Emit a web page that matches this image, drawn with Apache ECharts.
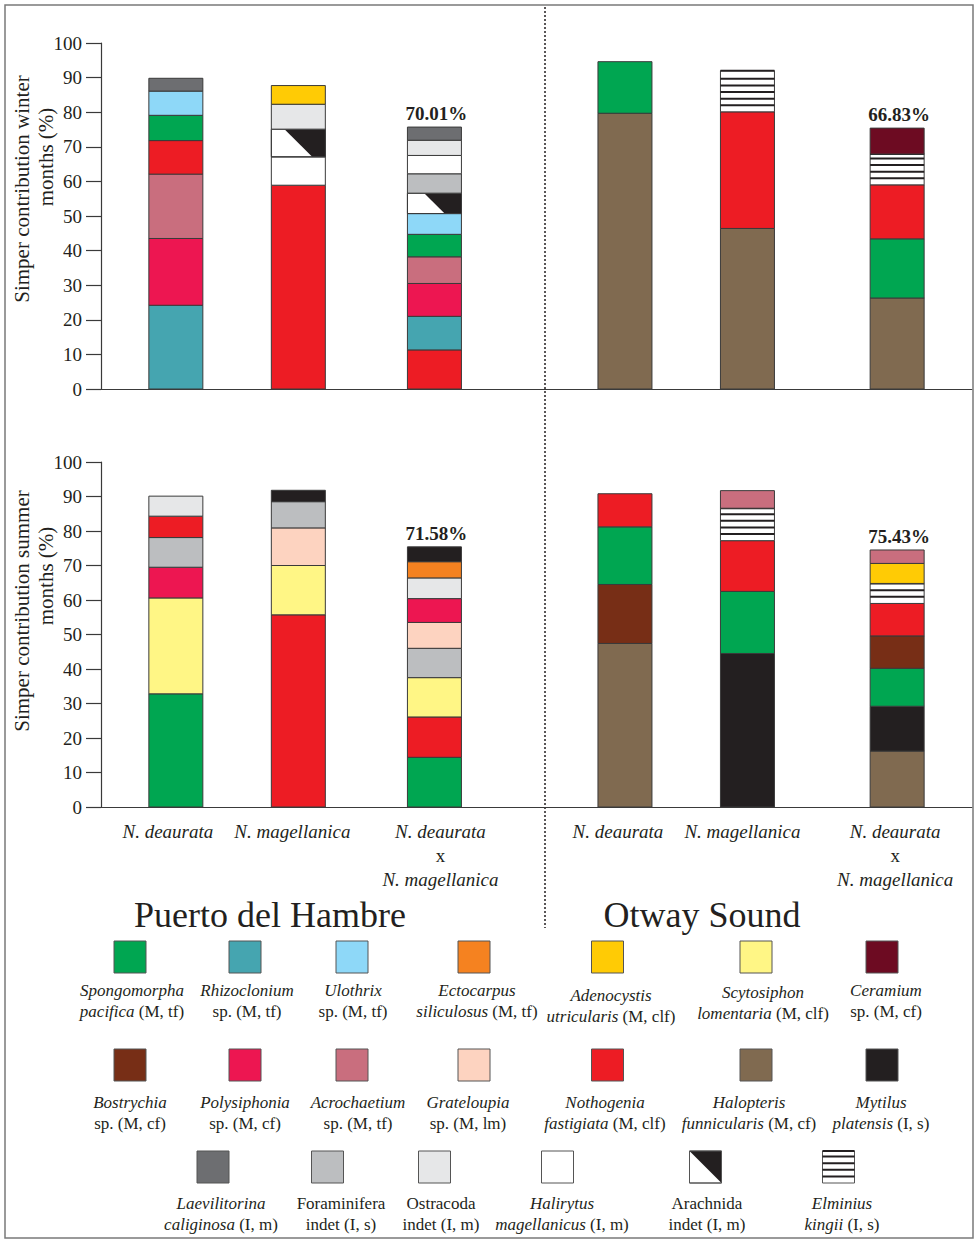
<!DOCTYPE html>
<html><head><meta charset="utf-8">
<script src="https://cdn.jsdelivr.net/npm/echarts@6/dist/echarts.min.js"></script>
<style>html,body{margin:0;padding:0;background:#fff}#c{width:976px;height:1242px}</style>
</head><body><div id="c"></div>
<script>
// ---------------- DATA ----------------
const categories = ['N. deaurata', 'N. magellanica', 'N. deaurata x N. magellanica'];
const sites = ['Puerto del Hambre', 'Otway Sound'];
const seasons = ['winter', 'summer'];
const hybridPercent = ['70.01%', '66.83%', '71.58%', '75.43%']; // winter PH, winter OS, summer PH, summer OS

const speciesKeys = ['Spongomorpha','Rhizoclonium','Ulothrix','Ectocarpus','Adenocystis','Scytosiphon','Ceramium',
  'Bostrychia','Polysiphonia','Acrochaetium','Grateloupia','Nothogenia','Halopteris','Mytilus',
  'Laevilitorina','Foraminifera','Ostracoda','Halirytus','Arachnida','Elminius'];
const speciesLabels = [
  '{i|Spongomorpha}\n{i|pacifica} (M, tf)', '{i|Rhizoclonium}\nsp. (M, tf)', '{i|Ulothrix}\nsp. (M, tf)',
  '{i|Ectocarpus}\n{i|siliculosus} (M, tf)', '{i|Adenocystis}\n{i|utricularis} (M, clf)',
  '{i|Scytosiphon}\n{i|lomentaria} (M, clf)', '{i|Ceramium}\nsp. (M, cf)',
  '{i|Bostrychia}\nsp. (M, cf)', '{i|Polysiphonia}\nsp. (M, cf)', '{i|Acrochaetium}\nsp. (M, tf)',
  '{i|Grateloupia}\nsp. (M, lm)', '{i|Nothogenia}\n{i|fastigiata} (M, clf)',
  '{i|Halopteris}\n{i|funnicularis} (M, cf)', '{i|Mytilus}\n{i|platensis} (I, s)',
  '{i|Laevilitorina}\n{i|caliginosa} (I, m)', 'Foraminifera\nindet (I, s)', 'Ostracoda\nindet (I, m)',
  '{i|Halirytus}\n{i|magellanicus} (I, m)', 'Arachnida\nindet (I, m)', '{i|Elminius}\n{i|kingii} (I, s)'];

// stacked contributions, bottom to top
const winterPH_deaurata = [['Rhizoclonium',24.2],['Polysiphonia',19.3],['Acrochaetium',18.6],['Nothogenia',9.7],['Spongomorpha',7.3],['Ulothrix',7.0],['Laevilitorina',3.7]];
const winterPH_magellanica = [['Nothogenia',58.9],['Halirytus',8.2],['Arachnida',8.0],['Ostracoda',7.2],['Adenocystis',5.4]];
const winterPH_hybrid = [['Nothogenia',11.3],['Rhizoclonium',9.7],['Polysiphonia',9.5],['Acrochaetium',7.7],['Spongomorpha',6.5],['Ulothrix',6.0],['Arachnida',5.9],['Foraminifera',5.6],['Halirytus',5.3],['Ostracoda',4.4],['Laevilitorina',3.8]];
const winterOS_deaurata = [['Halopteris',79.7],['Spongomorpha',14.9]];
const winterOS_magellanica = [['Halopteris',46.4],['Nothogenia',33.7],['Elminius',11.9]];
const winterOS_hybrid = [['Halopteris',26.3],['Spongomorpha',17.1],['Nothogenia',15.6],['Elminius',8.9],['Ceramium',7.5]];
const summerPH_deaurata = [['Spongomorpha',32.8],['Scytosiphon',27.8],['Polysiphonia',8.9],['Foraminifera',8.6],['Nothogenia',6.2],['Ostracoda',5.8]];
const summerPH_magellanica = [['Nothogenia',55.7],['Scytosiphon',14.3],['Grateloupia',10.9],['Foraminifera',7.6],['Mytilus',3.3]];
const summerPH_hybrid = [['Spongomorpha',14.4],['Nothogenia',11.7],['Scytosiphon',11.4],['Foraminifera',8.5],['Grateloupia',7.5],['Polysiphonia',6.9],['Ostracoda',6.0],['Ectocarpus',4.7],['Mytilus',4.3]];
const summerOS_deaurata = [['Halopteris',47.4],['Bostrychia',17.1],['Spongomorpha',16.7],['Nothogenia',9.6]];
const summerOS_magellanica = [['Mytilus',44.5],['Spongomorpha',18.0],['Nothogenia',14.7],['Elminius',9.4],['Acrochaetium',5.1]];
const summerOS_hybrid = [['Halopteris',16.2],['Mytilus',13.0],['Spongomorpha',11.0],['Bostrychia',9.4],['Nothogenia',9.4],['Elminius',5.8],['Adenocystis',5.8],['Acrochaetium',3.9]];

// ---------------- STYLE / LAYOUT ----------------
const speciesColors = {
  Spongomorpha:'#00a651', Rhizoclonium:'#45a5b0', Ulothrix:'#8ed8f8', Ectocarpus:'#f58220', Adenocystis:'#ffcb05',
  Scytosiphon:'#fff685', Ceramium:'#6d0b22', Bostrychia:'#772e16', Polysiphonia:'#ed1651', Acrochaetium:'#c96e7e',
  Grateloupia:'#fdd3c0', Nothogenia:'#ed1c24', Halopteris:'#806a50', Mytilus:'#231f20', Laevilitorina:'#6d6e71',
  Foraminifera:'#bcbec0', Ostracoda:'#e6e7e8', Halirytus:'#ffffff', Arachnida:'#ffffff', Elminius:'#ffffff'
};
const FONT = 'Liberation Serif';
const TXT = '#231f20';
const SLOT_COUNT = 64;
const barSlots = [5, 14, 24, 38, 47, 58]; // PH: 3 cats, OS: 3 cats
const labelShift = [-8, -6, 6, -7, -5, -2]; // horizontal nudge of category labels (px)
const BAR_W = 54;

const rows = [
  [winterPH_deaurata, winterPH_magellanica, winterPH_hybrid, winterOS_deaurata, winterOS_magellanica, winterOS_hybrid],
  [summerPH_deaurata, summerPH_magellanica, summerPH_hybrid, summerOS_deaurata, summerOS_magellanica, summerOS_hybrid]
];

function clipHalf(pts, f) {
  const out = [];
  for (let i = 0; i < pts.length; i++) {
    const cur = pts[i], prev = pts[(i + pts.length - 1) % pts.length];
    const fc = f(cur), fp = f(prev);
    const inter = () => { const t = fp / (fp - fc); return [prev[0] + t * (cur[0] - prev[0]), prev[1] + t * (cur[1] - prev[1])]; };
    if (fc >= 0) { if (fp < 0) out.push(inter()); out.push(cur); }
    else if (fp >= 0) out.push(inter());
  }
  return out;
}

function segmentShape(x, y, w, h, key, stroke) {
  const children = [{ type: 'rect', shape: { x, y, width: w, height: h },
    style: { fill: speciesColors[key], stroke: stroke || '#3a3a3a', lineWidth: 1 } }];
  if (key === 'Arachnida') {
    const cx = x + w / 2, cy = y + h / 2;
    const poly = clipHalf([[x, y], [x + w, y], [x + w, y + h], [x, y + h]], p => (p[0] - cx) - (p[1] - cy));
    if (poly.length > 2) children.push({ type: 'polygon', shape: { points: poly }, style: { fill: '#231f20' } });
    children.push({ type: 'rect', shape: { x, y, width: w, height: h }, style: { fill: 'none', stroke: stroke || '#3a3a3a', lineWidth: 1 } });
  }
  if (key === 'Elminius') {
    for (let yy = y + h - 6.6; yy > y + 2; yy -= 6.6) {
      children.push({ type: 'line', shape: { x1: x, y1: yy, x2: x + w, y2: yy }, style: { stroke: '#231f20', lineWidth: 2 } });
    }
    children.push({ type: 'line', shape: { x1: x, y1: y, x2: x + w, y2: y }, style: { stroke: '#231f20', lineWidth: 2 } });
  }
  return { type: 'group', children };
}

// build series data
const series = [];
rows.forEach((bars, g) => {
  const segData = [];
  const topData = [];
  bars.forEach((bar, b) => {
    let acc = 0;
    bar.forEach(([key, v]) => {
      segData.push([barSlots[b], acc, acc + v, speciesKeys.indexOf(key)]);
      acc += v;
    });
    if (b === 2 || b === 5) topData.push([barSlots[b], acc, g * 2 + (b === 5 ? 1 : 0)]);
  });
  series.push({
    type: 'custom', xAxisIndex: g, yAxisIndex: g, data: segData,
    encode: { x: 0, y: [1, 2] },
    renderItem: (params, api) => {
      const slot = api.value(0);
      const p0 = api.coord([slot, api.value(1)]);
      const p1 = api.coord([slot, api.value(2)]);
      return segmentShape(p0[0] - BAR_W / 2, p1[1], BAR_W, p0[1] - p1[1], speciesKeys[api.value(3)]);
    }
  });
  series.push({
    type: 'custom', xAxisIndex: g, yAxisIndex: g, data: topData,
    encode: { x: 0, y: 1 },
    renderItem: (params, api) => {
      const p = api.coord([api.value(0), api.value(1)]);
      return { type: 'text', style: { x: p[0] + 2, y: p[1] - 4, text: hybridPercent[api.value(2)],
        font: 'bold 19px "' + FONT + '"', fill: TXT, align: 'center', verticalAlign: 'bottom' } };
    }
  });
});

// category labels with per-slot rich styles (for small horizontal nudges)
const slotLabels = new Array(SLOT_COUNT).fill('');
const richStyles = {};
barSlots.forEach((slot, j) => {
  const c = j % 3;
  const s = labelShift[j];
  const pad = s < 0 ? [0, -2 * s, 0, 0] : [0, 0, 0, 2 * s];
  richStyles['i' + j] = { fontStyle: 'italic', fontFamily: FONT, fontSize: 19, color: TXT, lineHeight: 24, padding: pad };
  richStyles['n' + j] = { fontFamily: FONT, fontSize: 19, color: TXT, lineHeight: 24, padding: pad };
  const parts = categories[c].split(' x ');
  slotLabels[slot] = parts.length > 1
    ? '{i' + j + '|' + parts[0] + '}\n{n' + j + '|x}\n{i' + j + '|' + parts[1] + '}'
    : '{i' + j + '|' + parts[0] + '}';
});
const slotData = slotLabels.map((_, i) => String(i));

function xAxis(g) {
  return {
    type: 'category', gridIndex: g, data: slotData, boundaryGap: true,
    axisLine: { show: true, lineStyle: { color: '#3a3a3a', width: 1.2 } },
    axisTick: { show: false },
    axisLabel: g === 1 ? {
      show: true, interval: 0, margin: 12, color: TXT, fontFamily: FONT, fontSize: 19, lineHeight: 24,
      formatter: (v, i) => slotLabels[i],
      rich: richStyles
    } : { show: false },
    splitLine: { show: false }
  };
}
function yAxis(g) {
  return {
    type: 'value', gridIndex: g, min: 0, max: 100, interval: 10,
    axisLine: { show: true, lineStyle: { color: '#3a3a3a', width: 1.2 } },
    axisTick: { show: true, length: 15, lineStyle: { color: '#3a3a3a', width: 1.2 } },
    axisLabel: { margin: 19, color: TXT, fontFamily: FONT, fontSize: 19 },
    splitLine: { show: false }
  };
}

// legend layout
const legendRows = [
  { keys: [0,1,2,3,4,5,6], sq: [130,245,352,474,607.5,756,882], tx: [132,247,353,477,611,763,886], top: 941, ty: [990,990,990,990,995,992,990] },
  { keys: [7,8,9,10,11,12,13], sq: [130,245,352,474,607.5,756,882], tx: [130,245,358,468,605,749,881], top: 1049, ty: [1102,1102,1102,1102,1102,1102,1102] },
  { keys: [14,15,16,17,18,19], sq: [213,327.5,434.5,557.5,705.5,838.5], tx: [221,341,441,562,707,842], top: 1151, ty: [1203,1203,1203,1203,1203,1203] }
];
const graphics = [];
graphics.push({ type: 'rect', shape: { x: 5, y: 5, width: 968, height: 1233 }, style: { fill: 'none', stroke: '#7a7a7a', lineWidth: 1.5 }, z: 10 });
graphics.push({ type: 'line', shape: { x1: 545, y1: 7, x2: 545, y2: 928 }, style: { stroke: '#231f20', lineWidth: 1.5, lineDash: [2, 2] } });
[['Simper contribution ' + seasons[0], 22, 189], ['months (%)', 46, 157], ['Simper contribution ' + seasons[1], 22, 611], ['months (%)', 46, 576]].forEach(([t, x, y]) => {
  graphics.push({ type: 'text', x, y, rotation: Math.PI / 2,
    style: { text: t, font: '21px "' + FONT + '"', fill: TXT, align: 'center', verticalAlign: 'middle' } });
});
[[sites[0], 270, 915], [sites[1], 702, 915]].forEach(([t, x, y]) => {
  graphics.push({ type: 'text', x, y, style: { text: t, font: '36px "' + FONT + '"', fill: TXT, align: 'center', verticalAlign: 'middle' } });
});
legendRows.forEach(r => {
  r.keys.forEach((k, j) => {
    const sh = segmentShape(r.sq[j] - 16, r.top, 32, 32, speciesKeys[k], '#555');
    graphics.push(sh);
    graphics.push({ type: 'text', x: r.tx[j], y: r.ty[j] - 10.5,
      style: { text: speciesLabels[k], fontFamily: FONT, fontSize: 17, fill: TXT, align: 'center', verticalAlign: 'top', lineHeight: 21,
        rich: { i: { fontStyle: 'italic', fontFamily: FONT, fontSize: 17, fill: TXT, lineHeight: 21 } } } });
  });
});

const chart = echarts.init(document.getElementById('c'), null, { renderer: 'svg' });
chart.setOption({
  backgroundColor: '#fff',
  animation: false,
  grid: [
    { left: 101, top: 43, width: 871, height: 346 },
    { left: 101, top: 462, width: 871, height: 345 }
  ],
  xAxis: [xAxis(0), xAxis(1)],
  yAxis: [yAxis(0), yAxis(1)],
  series,
  graphic: graphics
});
</script></body></html>
